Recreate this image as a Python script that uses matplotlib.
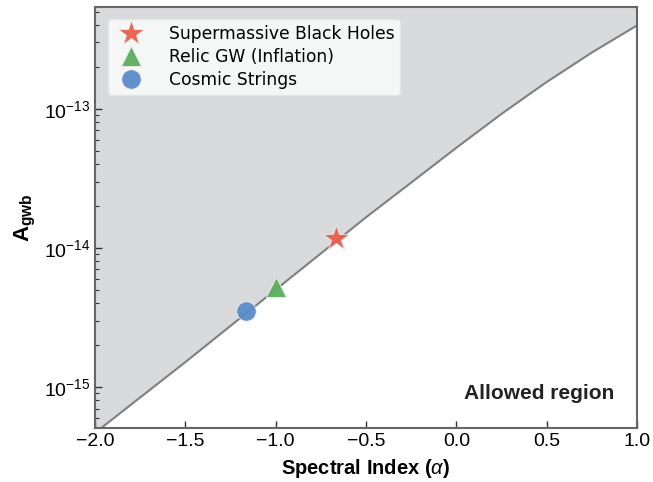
import numpy as np
import matplotlib
matplotlib.use("Agg")
import matplotlib.pyplot as plt
from matplotlib.ticker import NullFormatter, FixedLocator

plt.rcParams['font.family'] = ['Liberation Sans', 'DejaVu Sans']
plt.rcParams['mathtext.fontset'] = 'custom'
plt.rcParams['mathtext.rm'] = 'Liberation Sans'
plt.rcParams['mathtext.it'] = 'Liberation Sans:italic'
plt.rcParams['mathtext.bf'] = 'Liberation Sans:bold'

# sensitivity curve
alpha = [-2.0, -1.75, -1.5, -1.25, -1.0, -0.75, -0.5, -0.25, 0.0, 0.25, 0.5, 0.75, 1.0]
a_curve = [4.68e-16, 8.41e-16, 1.51e-15, 2.75e-15, 5.01e-15, 9.12e-15, 1.66e-14,
           2.95e-14, 5.25e-14, 9.20e-14, 1.56e-13, 2.54e-13, 3.98e-13]

# sources
src_names = ['Supermassive Black Holes', 'Relic GW (Inflation)', 'Cosmic Strings']
src_alpha = [-2 / 3., -1.0, -7 / 6.]
src_amp = [1.18e-14, 5.2e-15, 3.5e-15]
src_marker = ['*', '^', 'o']
src_color = ['#e8604c', '#5cae5c', '#5a8bc9']
src_size = [19, 14, 14]

y_ticks = [1e-15, 1e-14, 1e-13]
y_top = 5.4e-13
y_bot = 5.07e-16

fig = plt.figure(figsize=(6.53, 4.82), dpi=100)
ax = fig.add_axes([0.1455, 0.112, 0.83, 0.8735])

ax.fill_between(alpha, a_curve, y_top, color='#d9dadc', lw=0)
ax.plot(alpha, a_curve, color='#808080', lw=1.5)

for n, x, y, m, c, s in zip(src_names, src_alpha, src_amp, src_marker, src_color, src_size):
    ax.plot([x], [y], ls='none', marker=m, ms=s, color=c, mec='#f0f0f0', mew=0.6,
            alpha=0.95, label=n, zorder=5)

ax.set_yscale('log')
ax.set_xlim(-2, 1)
ax.set_ylim(y_bot, y_top)
ax.yaxis.set_major_locator(FixedLocator(y_ticks))
ax.yaxis.set_minor_formatter(NullFormatter())

ax.tick_params(which='both', direction='in', labelsize=14, color='#333333')
ax.tick_params(which='major', length=5, width=1)
ax.tick_params(which='minor', length=3, width=0.8)
for sp in ax.spines.values():
    sp.set_color('#666666')
    sp.set_linewidth(1.5)

ax.set_xlabel(r'Spectral Index ($\alpha$)', fontsize=14.5, fontweight='bold', labelpad=5)
ax.set_ylabel(r'$\mathbf{A_{gwb}}$', fontsize=16, labelpad=4)

ax.text(0.958, 0.083, 'Allowed region', transform=ax.transAxes, ha='right', va='center',
        fontsize=15, fontweight='bold', color='#222222')

leg = ax.legend(loc='upper left', prop={'family': 'DejaVu Sans', 'size': 12.3},
                frameon=True, facecolor='#f5f6f6', edgecolor='#e5e5e5', framealpha=1,
                borderpad=0.35, handletextpad=1.2, labelspacing=0.3,
                bbox_to_anchor=(0.008, 0.992))

fig.savefig('out.png', dpi=100)
